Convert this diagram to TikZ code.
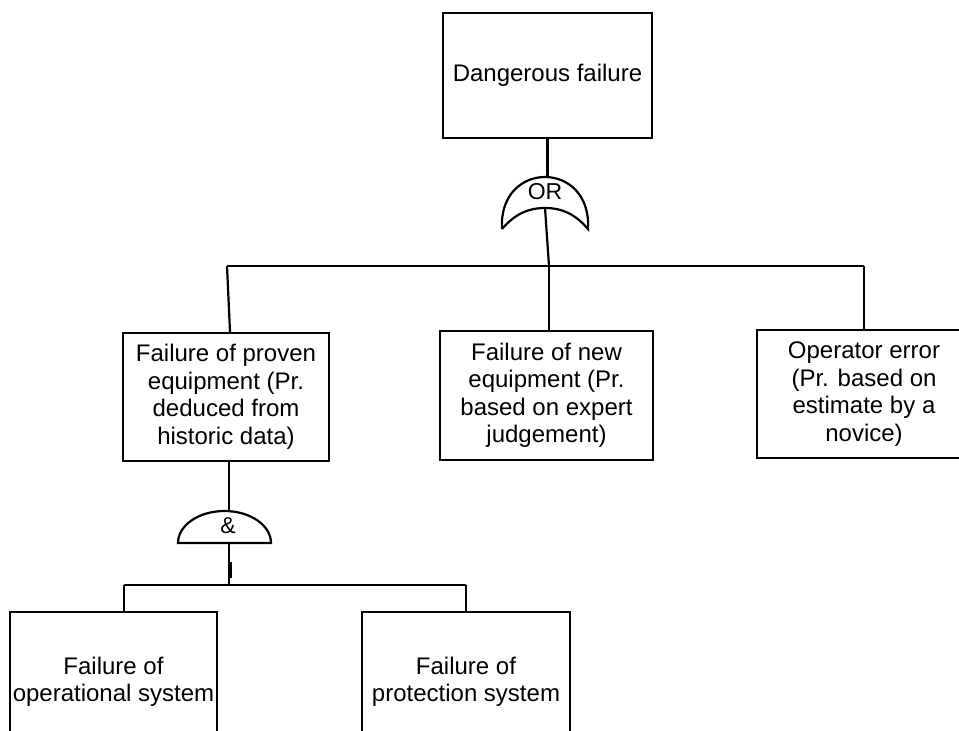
\documentclass[tikz,border=0pt]{standalone}
\usepackage{fontspec}
\setmainfont{Liberation Sans}
\usepackage{tikz}
\tikzset{
	event/.style={draw, line width=2.2pt, rectangle, inner sep=0pt, align=center, font=\fontsize{24}{27.5}\selectfont},
	wire/.style={line width=2.2pt},
	gatelabel/.style={inner sep=0pt, font=\fontsize{23}{23}\selectfont},
}

\begin{document}
\begin{tikzpicture}[x=1pt,y=-1pt]
	\useasboundingbox (0,0) rectangle (959,731);
	\clip (0,0) rectangle (959,731);
	% top event
	\node[event, minimum width=209pt, minimum height=125pt] (top) at (547.5,75.5) {Dangerous failure};
	% OR gate
	\coordinate (or-top) at (545,177);
	\coordinate (or-out) at (545,208);
	\draw[wire] (502,229) .. controls (500,195) and (522,177) .. (or-top) .. controls (568,177) and (590,195) .. (588,229) .. controls (575,214) and (562,208) .. (or-out) .. controls (528,208) and (515,214) .. (502,229);
	\node[gatelabel] (or-label) at (545,192) {OR};
	\draw[wire] (top.south) -- (top.south |- or-top);
	% middle row
	\node[event, minimum width=206pt, minimum height=128pt] (proven) at (226,397) {Failure of proven\\equipment (Pr.\\deduced from\\historic data)};
	\node[event, minimum width=213pt, minimum height=129pt] (newequip) at (546.5,395.5) {Failure of new\\equipment (Pr.\\based on expert\\judgement)};
	\node[event, minimum width=214pt, minimum height=128pt] (operator) at (864,394) {Operator error\\(Pr. based on\\estimate by a\\novice)};
	\coordinate (bus-l) at (227,266);
	\coordinate (bus-m) at (549,266);
	\coordinate (bus-r) at (864,266);
	\draw[wire] (or-out) -- (bus-m);
	\draw[wire] (bus-l) -- (bus-r);
	\draw[wire] (bus-l) -- (proven.north -| 230,0);
	\draw[wire] (bus-m) -- (bus-m |- newequip.north);
	\draw[wire] (bus-r) -- (operator.north);
	% AND gate
	\coordinate (and-in) at (229,511);
	\coordinate (and-out) at (229,543);
	\draw[wire] (178,543) arc[start angle=180, end angle=360, x radius=46.5, y radius=32] -- cycle;
	\node[gatelabel] (and-label) at (228,526) {\&};
	\draw[wire] (proven.south -| and-in) -- (and-in);
	% bottom row
	\node[event, minimum width=207pt, minimum height=140pt] (opsys) at (113.5,682) {Failure of\\operational system};
	\node[event, minimum width=208pt, minimum height=140pt] (protsys) at (466,682) {Failure of\\protection system};
	\coordinate (sub-l) at (124,585);
	\coordinate (sub-m) at (229,585);
	\coordinate (sub-r) at (466,585);
	\draw[wire] (and-out) -- (sub-m);
	\draw[wire] (231,562) -- (231,578);
	\draw[wire] (sub-l) -- (sub-r);
	\draw[wire] (sub-l) -- (sub-l |- opsys.north);
	\draw[wire] (sub-r) -- (protsys.north);
\end{tikzpicture}
\end{document}
